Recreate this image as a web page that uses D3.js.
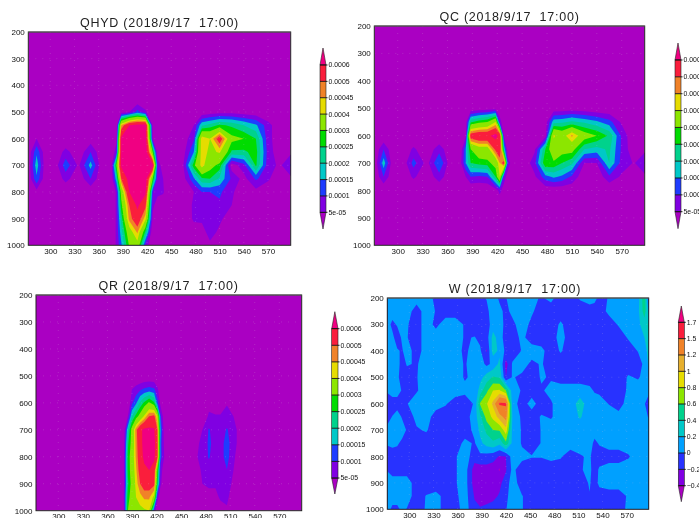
<!DOCTYPE html>
<html>
<head>
<meta charset="utf-8">
<title>QHYD QC QR W</title>
<script src="https://cdn.jsdelivr.net/npm/d3@7"></script>
<style>
  html, body { margin: 0; padding: 0; background: #fff; }
  svg { display: block; filter: blur(0.35px); }
</style>
</head>
<body>
<svg id="chart" width="699" height="518"></svg>
<script>
// mixing ratio panels are kept in units of 1e-5
const qLevels = [5, 10, 15, 20, 25, 30, 40, 45, 50, 60];
const qLabels = ["5e-05", "0.0001", "0.00015", "0.0002", "0.00025", "0.0003", "0.0004", "0.00045", "0.0005", "0.0006"];
const qColors = ["#aa00c2", "#8000e2", "#1e3cff", "#00c8c8", "#00d28c", "#00dc00", "#8ce600", "#e6dc00", "#f08228", "#fa1e3c", "#f00082"];

const wLevels = [-0.4, -0.2, 0, 0.2, 0.4, 0.6, 0.8, 1, 1.2, 1.5, 1.7];
const wLabels = ["\u22120.4", "\u22120.2", "0", "0.2", "0.4", "0.6", "0.8", "1", "1.2", "1.5", "1.7"];
const wColors = ["#aa00c2", "#8000e2", "#2832ff", "#00a0ff", "#00c8c8", "#00d28c", "#8ce600", "#e6dc00", "#e6af2d", "#f08228", "#fa1e3c", "#f00082"];

const xTicks = [300, 330, 360, 390, 420, 450, 480, 510, 540, 570];
const yTicks = [200, 300, 400, 500, 600, 700, 800, 900, 1000];

const qhydLon = [272, 283, 295, 307, 319, 335, 350, 365, 376, 382, 388, 398, 408, 418, 427, 433, 440, 450, 465, 478, 488, 498, 510, 525, 540, 555, 570, 585, 599];
const qhydLev = [450, 500, 550, 600, 650, 700, 750, 800, 850, 900, 950, 1000];
const qhydValues = [
  [0,0,0,0,0,0,0,0,0,0,0,0,0,0,0,0,0,0,0,0,0,0,0,0,0,0,0,0,0],
  [0,0,0,0,0,0,0,0,0,0,2,5,12,6,0,0,0,0,0,0,1,2,3,3,2,1,0,0,0],
  [0,0,0,0,0,0,0,0,0,0,45,60,63,63,3,0,0,0,0,5,19,22,26,24,20,16,7,1,0],
  [0,5,0,0,0,0,2,0,0,3,62,66,68,66,5,0,0,0,2,9,44,40,55,32,30,25,7,1,0],
  [0,14,0,1,7,1,10,0,1,8,62,68,70,68,30,2,0,0,3,15,44,38,41,24,24,27,8,1,4],
  [0,18,0,3,13,4,17,0,4,30,62,68,72,70,62,8,2,0,5,28,43,33,28,2,8,26,7,4,11],
  [0,14,0,1,7,1,10,0,2,18,50,64,68,66,30,7,5,0,3,14,24,25,19,9,3,11,6,0,4],
  [0,3,0,0,0,0,1,0,0,6,33,60,68,62,10,6,5.5,0,0,5,10,10,11,6,1,3,1,0,0],
  [0,0,0,0,0,0,0,0,0,6,28,50,62,52,6,3,2,0,1,6,7,7,9,5,0,0,0,0,0],
  [0,0,0,0,0,0,0,0,0,6,22,47,56,42,4,0,0,0,0,6,6,5.5,6,2,0,0,0,0,0],
  [0,0,0,0,0,0,0,0,0,6,18,36,46,24,0,0,0,0,0,2,3,7,4,0,0,0,0,0,0],
  [0,0,0,0,0,0,0,0,0,6,14,31,37,8,0,0,0,0,0,0,0,4,1,0,0,0,0,0,0]
];

const qcLon = [272, 283, 295, 307, 319, 335, 350, 365, 376, 382, 388, 398, 408, 418, 423, 428, 433, 440, 450, 465, 478, 488, 498, 510, 525, 540, 555, 570, 585, 599];
const qcLev = [450, 500, 550, 600, 650, 700, 750, 800, 850];
const qcValues = [
  [0,0,0,0,0,0,0,0,0,0,0,0,0,0,0,0,0,0,0,0,0,0,0,0,0,0,0,0,0,0],
  [0,0,0,0,0,0,0,0,0,0,0,1,2,2,0,0,0,0,0,0,0,1,1,2,1,0,0,0,0,0],
  [0,0,0,0,0,0,0,0,0,2,24,28,30,40,8,0,0,0,0,0,2,18,19,21,19,16,12,4,0,0],
  [0,0,0,0,0,0,0,0,0,4,55,58,58,63,57,5,0,0,0,1,3,41,36,46,34,30,24,9,0,0],
  [0,10,0,1,6,1,8,0,2,15,30,36,36,52,58,20,0,0,0,4,25,36,33,33,20,18,21,9,1,4],
  [0,18,0,2,12,3,15,0,4,15,25,27,28,33,45,55,8,0,0,8,30,29,25,21,5,5,20,8,4.5,11],
  [0,10,0,1,6,1,8,0,1,5,10,9,10,25,40,8,2,0,0,4,13,16,14,9,1,1,9,4,0,4],
  [0,0,0,0,0,0,0,0,0,0,0,0,0,2,7,2,0,0,0,0,1,1,1,1,0,0,0,0,0,0],
  [0,0,0,0,0,0,0,0,0,0,0,0,0,0,0,0,0,0,0,0,0,0,0,0,0,0,0,0,0,0]
];

const qrLon = [272, 375, 380, 385, 390, 395, 400, 405, 411, 417, 421, 425, 430, 440, 470, 476, 484, 492, 498, 506, 514, 522, 530, 599];
const qrLev = [500, 550, 600, 650, 700, 750, 800, 850, 900, 950, 1000];
const qrValues = [
  [0,0,0,0,0,0,0,0,0,0,0,0,0,0,0,0,0,0,0,0,0,0,0,0],
  [0,0,0,0,5,7,9,11,12,11,6,1,0,0,0,0,0,0,0,0,0,0,0,0],
  [0,0,0,0,9,14,21,26,31,26,12,3,0,0,0,0,3,2,2,4.5,1,0,0,0],
  [0,0,0,5,20,27,33,41,50,52,40,11,0,0,0,0,6,5.5,5.5,7,5,0,0,0],
  [0,0,1,19,33,48,58,62,62,61,50,15,1,0,2,5,10.5,7,7,10.5,7,3,0,0],
  [0,0,3,24,33,47,57,63,66,63,52,12,3,0,4.5,6,11,8,8,12,7,3,0,0],
  [0,0,4,26,35,46,56,62,64,62,52,12,4,0,5,7,10.5,7,8,12,6,2,0,0],
  [0,0,4,26,34,44,54,58,60,56,30,8,0,0,3,6,8,7,8,9.9,5,0,0,0],
  [0,0,4,24,33,42,50,54,54,52,25,6,0,0,0,5,6.5,6,7,7,4,0,0,0],
  [0,0,5,28,33,40,43,46,46,38,8,0,0,0,0,1,2,3,6,6.5,1,0,0,0],
  [0,0,4,30,33,36,38,39,40,10,0,0,0,0,0,0,0,0,2,4,0,0,0,0]
];

const wLon = [272, 279, 285, 291, 297, 309, 321, 333, 345, 357, 369, 381, 388, 396, 404, 412, 420, 428, 440, 452, 464, 476, 488, 500, 512, 524, 530, 536, 548, 560, 572, 584, 592, 598];
const wLev = [200, 250, 300, 350, 400, 450, 500, 550, 600, 650, 700, 750, 800, 850, 900, 950, 1000];
const wValues = [
  [.1,.1,.1,.1,.1,.1,.1,-.05,-.1,-.1,-.1,-.1,-.05,.01,.1,-.03,-.01,.1,.1,.05,-.02,.05,-.1,-.1,.02,.1,.06,-.05,.01,.1,.1,.12,.55,-.25],
  [.1,.1,.1,.1,.1,-.1,.1,-.01,-.1,-.1,-.1,-.1,-.1,-.05,.1,.05,-.05,.05,.1,.03,-.1,-.1,-.1,-.1,-.1,-.1,-.1,-.1,.05,.1,.1,.15,.5,.1],
  [.1,-.05,.02,.1,.02,-.1,.1,-.05,.1,.1,-.02,-.1,-.1,-.1,.1,.15,-.1,-.05,.1,-.05,-.1,-.1,.03,-.1,-.1,-.1,-.1,-.1,-.1,.02,.1,.15,.3,.45],
  [.1,.05,-.1,.03,.01,-.1,.1,.1,.1,.1,-.02,.01,-.05,-.1,.28,.1,-.1,-.1,.05,-.1,-.1,-.1,.08,-.1,-.1,-.1,-.1,-.1,-.1,-.1,.02,.1,.2,.45],
  [.1,.1,.02,-.02,.1,-.1,.1,.1,.1,.1,-.05,.1,.03,-.22,.3,.15,-.05,-.1,.01,.1,.05,-.1,.02,-.1,-.1,-.1,-.1,-.1,-.1,-.1,-.1,.01,.1,.3],
  [.1,.1,.1,-.1,.02,-.02,.1,.1,.1,.1,-.02,.1,.1,-.05,.05,.25,-.28,.02,.1,-.05,.02,-.1,-.1,-.1,-.1,-.1,-.1,-.1,-.1,-.1,-.1,-.1,.05,.25],
  [.1,.1,.05,-.1,-.1,-.01,.1,.1,.1,.1,-.02,.05,.12,.3,.42,.38,-.2,.02,-.05,-.1,.02,-.02,-.1,-.1,-.1,-.1,-.1,-.1,-.1,-.1,.02,-.02,.05,.1],
  [.02,.1,.1,-.02,-.1,-.02,.1,.1,.1,.1,.05,.01,.3,.55,.8,.82,.6,.1,-.02,-.1,-.02,.05,.1,.1,.1,.05,-.02,-.05,-.1,-.1,.03,.1,.05,.05],
  [-.1,-.1,-.1,-.1,-.01,.1,.1,.1,.02,-.1,-.1,.02,.62,.78,1.05,1.55,1.55,.1,-.1,.08,-.1,-.02,.1,.1,.28,.1,.1,.1,-.01,-.1,.1,.1,.02,-.15],
  [-.1,.01,.1,-.02,-.1,.05,.1,-.1,-.1,-.1,-.1,.1,.35,.68,.85,1.1,1.3,.2,-.05,-.1,.02,-.02,.1,.1,.22,.1,.1,.1,.1,.08,.1,.1,.05,-.02],
  [.05,.1,.1,.1,-.02,-.02,.02,-.1,-.1,-.1,-.1,.05,.25,.45,.6,.62,.92,.15,-.02,-.1,.01,.1,.1,.1,.1,.1,.1,.1,.1,.1,.1,.1,.1,.1],
  [.02,.05,.03,-.05,-.1,-.1,-.1,-.1,-.1,-.1,.05,-.02,.15,.28,.35,.25,.55,.15,-.02,-.1,.01,.1,.1,.1,.1,.1,-.05,.02,.1,.1,.1,.1,.1,.1],
  [-.1,-.1,-.1,-.1,-.1,-.1,-.1,-.1,-.1,-.02,.1,-.1,-.05,-.08,-.12,-.22,-.2,.1,.05,.01,.01,.05,.02,-.1,-.02,.03,-.1,-.1,-.1,-.1,-.02,.1,.1,.1],
  [-.01,-.1,-.1,-.1,-.1,-.1,-.1,-.1,-.1,-.02,.1,-.3,-.3,-.28,-.3,-.42,-.22,.05,-.1,-.1,-.1,-.1,-.1,-.1,-.02,.05,-.1,.03,.1,.1,.1,.1,.1,.1],
  [.1,.1,.1,.1,.1,-.1,-.1,-.1,-.1,-.02,.1,-.3,-.32,-.3,-.28,-.25,-.1,.1,-.1,-.1,-.1,-.1,-.1,-.1,-.1,.02,-.1,.05,.1,.1,.1,.1,.1,.1],
  [.1,.1,.1,.1,.1,-.1,.01,.05,-.05,-.05,.1,-.22,-.28,-.28,-.25,-.18,-.05,.1,.01,-.1,-.1,-.1,-.1,-.1,-.1,-.01,-.1,-.1,-.1,-.1,.03,.1,.1,.1],
  [.1,-.05,-.05,.05,-.01,-.1,.02,.1,-.1,-.1,.1,-.15,-.18,-.15,-.12,-.1,-.01,.1,.01,-.1,-.1,-.1,-.1,-.1,-.1,-.1,-.1,-.1,-.1,-.1,.05,.1,.1,.1]
];

// page layout of the four pictures
const panels = [
  { title: "QHYD (2018/9/17  17:00)", lon: qhydLon, lev: qhydLev, values: qhydValues, levels: qLevels, labels: qLabels, colors: qColors,
    left: 28.3, right: 290.7, top: 32, bottom: 245.3, x300: 50.3, x570: 268, titleX: 159.5, titleY: 27,
    barLeft: 320, barRight: 326, barTip: 48, barTop: 65, barBottom: 212.3, barEnd: 229 },
  { title: "QC (2018/9/17  17:00)", lon: qcLon, lev: qcLev, values: qcValues, levels: qLevels, labels: qLabels, colors: qColors,
    left: 374.3, right: 644.7, top: 26, bottom: 245.3, x300: 397.7, x570: 621.7, titleX: 509.5, titleY: 21,
    barLeft: 675, barRight: 681, barTip: 43, barTop: 60, barBottom: 211.7, barEnd: 228.7 },
  { title: "QR (2018/9/17  17:00)", lon: qrLon, lev: qrLev, values: qrValues, levels: qLevels, labels: qLabels, colors: qColors,
    left: 36, right: 301.7, top: 295, bottom: 510.7, x300: 58.3, x570: 279.3, titleX: 168.5, titleY: 290,
    barLeft: 331.7, barRight: 338, barTip: 311.7, barTop: 328.7, barBottom: 478, barEnd: 494 },
  { title: "W (2018/9/17  17:00)", lon: wLon, lev: wLev, values: wValues, levels: wLevels, labels: wLabels, colors: wColors,
    left: 387.3, right: 648.7, top: 298, bottom: 509.3, x300: 409.3, x570: 626.7, titleX: 515, titleY: 293,
    barLeft: 678.3, barRight: 684.3, barTip: 306, barTop: 322.3, barBottom: 485.7, barEnd: 501.7 }
];

const svg = d3.select("#chart");

function drawContours(g, p, x, y) {
  const ny = p.lev.length, nx = p.lon.length;
  // d3.contours puts grid point i at i + 0.5
  const lonAt = d3.scaleLinear().domain(d3.range(nx)).range(p.lon).clamp(true);
  const levAt = d3.scaleLinear().domain(d3.range(ny)).range(p.lev).clamp(true);
  const path = d3.geoPath(d3.geoTransform({
    point(px, py) {
      this.stream.point(x(lonAt(px - 0.5)), y(levAt(py - 0.5)));
    }
  }));
  const contours = d3.contours()
    .size([nx, ny])
    .smooth(true)
    .thresholds(p.levels)(p.values.flat());

  g.selectAll("path.band")
    .data(contours)
    .join("path")
    .attr("class", "band")
    .attr("d", path)
    .attr("fill", (d, i) => p.colors[i + 1]);
}

function drawColorbar(p) {
  const barY = d3.scaleLinear().domain([0, p.levels.length - 1]).range([p.barBottom, p.barTop]);
  const mid = (p.barLeft + p.barRight) / 2;
  const g = svg.append("g");
  const last = p.colors.length - 1;

  g.append("path")
    .attr("d", `M${p.barLeft},${p.barTop}L${mid},${p.barTip}L${p.barRight},${p.barTop}Z`)
    .attr("fill", p.colors[last]).attr("stroke", "#222").attr("stroke-width", 0.6);
  g.append("path")
    .attr("d", `M${p.barLeft},${p.barBottom}L${mid},${p.barEnd}L${p.barRight},${p.barBottom}Z`)
    .attr("fill", p.colors[0]).attr("stroke", "#222").attr("stroke-width", 0.6);

  g.selectAll("rect")
    .data(d3.range(p.levels.length - 1))
    .join("rect")
    .attr("x", p.barLeft)
    .attr("width", p.barRight - p.barLeft)
    .attr("y", i => barY(i + 1))
    .attr("height", i => barY(i) - barY(i + 1))
    .attr("fill", i => p.colors[i + 1]);

  g.append("rect")
    .attr("x", p.barLeft).attr("y", p.barTop)
    .attr("width", p.barRight - p.barLeft).attr("height", p.barBottom - p.barTop)
    .attr("fill", "none").attr("stroke", "#222").attr("stroke-width", 0.6);

  g.selectAll("line")
    .data(p.labels)
    .join("line")
    .attr("x1", p.barLeft).attr("x2", p.barRight + 1.5)
    .attr("y1", (d, i) => barY(i)).attr("y2", (d, i) => barY(i))
    .attr("stroke", "#111").attr("stroke-width", 0.9);

  g.selectAll("text")
    .data(p.labels)
    .join("text")
    .attr("x", p.barRight + 2.5)
    .attr("y", (d, i) => barY(i))
    .attr("dy", "0.35em")
    .attr("font-family", "Liberation Sans, Arial, sans-serif")
    .attr("font-size", 6.9)
    .attr("fill", "#111")
    .text(d => d);
}

function drawPanel(p, n) {
  const px = (p.x570 - p.x300) / 270;
  const x = d3.scaleLinear()
    .domain([300 - (p.x300 - p.left) / px, 570 + (p.right - p.x570) / px])
    .range([p.left, p.right]);
  const y = d3.scaleLinear().domain([200, 1000]).range([p.top, p.bottom]);

  const clipId = "clip" + n;
  svg.append("clipPath").attr("id", clipId)
    .append("rect")
    .attr("x", p.left).attr("y", p.top)
    .attr("width", p.right - p.left).attr("height", p.bottom - p.top);

  const g = svg.append("g").attr("clip-path", `url(#${clipId})`);
  g.append("rect")
    .attr("x", p.left).attr("y", p.top)
    .attr("width", p.right - p.left).attr("height", p.bottom - p.top)
    .attr("fill", p.colors[0]);

  drawContours(g, p, x, y);

  // faint dotted grid
  g.selectAll("line.gx").data(xTicks).join("line").attr("class", "gx")
    .attr("x1", d => x(d)).attr("x2", d => x(d))
    .attr("y1", p.top).attr("y2", p.bottom);
  g.selectAll("line.gy").data(yTicks).join("line").attr("class", "gy")
    .attr("x1", p.left).attr("x2", p.right)
    .attr("y1", d => y(d)).attr("y2", d => y(d));
  g.selectAll("line")
    .attr("stroke", "#d8c8d8").attr("stroke-opacity", 0.28)
    .attr("stroke-width", 0.7).attr("stroke-dasharray", "1 6");

  svg.append("rect")
    .attr("x", p.left).attr("y", p.top)
    .attr("width", p.right - p.left).attr("height", p.bottom - p.top)
    .attr("fill", "none").attr("stroke", "#222").attr("stroke-width", 1);
  // the top edge comes out lighter than the other three
  svg.append("line")
    .attr("x1", p.left).attr("x2", p.right)
    .attr("y1", p.top).attr("y2", p.top)
    .attr("stroke", "#666").attr("stroke-width", 1);

  const xAxis = svg.append("g")
    .attr("transform", `translate(0,${p.bottom})`)
    .call(d3.axisBottom(x).tickValues(xTicks).tickSize(0).tickPadding(3).tickFormat(d3.format("d")));
  const yAxis = svg.append("g")
    .attr("transform", `translate(${p.left},0)`)
    .call(d3.axisLeft(y).tickValues(yTicks).tickSize(0).tickPadding(3.5).tickFormat(d3.format("d")));
  [xAxis, yAxis].forEach(a => {
    a.select(".domain").remove();
    a.selectAll("text")
      .attr("font-family", "Liberation Sans, Arial, sans-serif")
      .attr("font-size", 8)
      .attr("fill", "#111");
  });

  svg.append("text")
    .attr("x", p.titleX).attr("y", p.titleY)
    .attr("text-anchor", "middle")
    .attr("font-family", "Liberation Sans, Arial, sans-serif")
    .attr("font-size", 12.5)
    .attr("letter-spacing", 0.75)
    .attr("fill", "#222")
    .style("white-space", "pre")
    .text(p.title);

  drawColorbar(p);
}

panels.forEach(drawPanel);
</script>
</body>
</html>
